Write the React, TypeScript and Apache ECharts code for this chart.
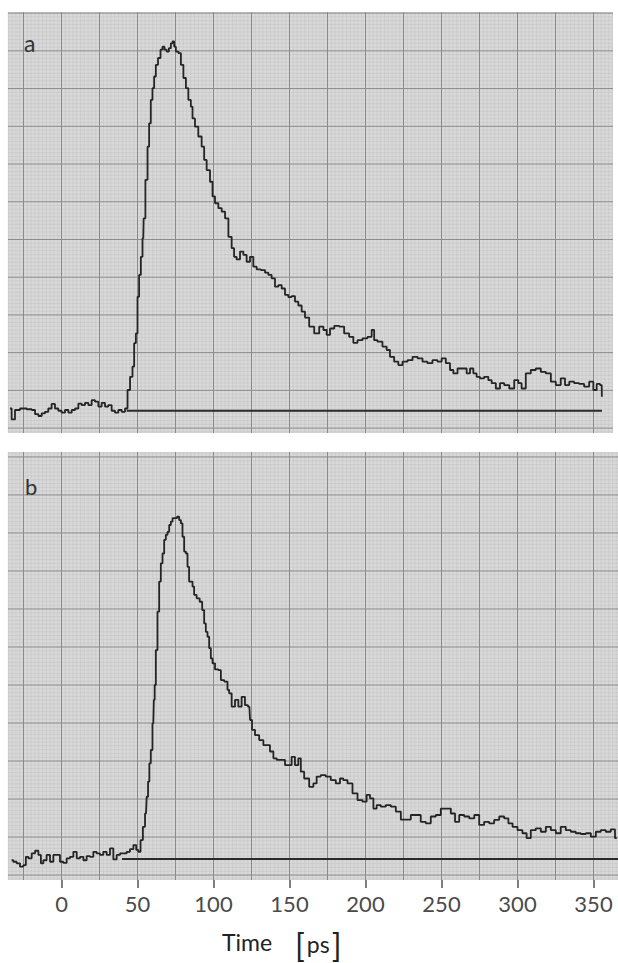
import React, { useEffect, useRef } from 'react';
import * as echarts from 'echarts';

// ---------- data (time in ps, signal in graph-paper divisions) ----------
const timeA = [
  -33.9, -31.7, -29.5, -25.1, -20.7, -18.5, -16.3, -14.1, -12.0, -9.8, -7.6, -5.4, -3.2, -1.0, 1.2, 3.4, 5.6, 7.8, 10.0,
  12.2, 14.3, 16.6, 18.8, 20.9, 23.2, 25.3, 27.5, 29.7, 31.9, 34.1, 36.3, 38.5, 40.7, 42.9, 44.0, 46.2, 47.2, 48.4, 49.5,
  50.5, 51.6, 52.8, 53.8, 54.3, 56.1, 57.1, 58.2, 59.3, 60.4, 61.5, 62.6, 64.4, 65.9, 67.0, 68.5, 69.9, 71.4, 72.5, 73.6,
  74.7, 75.8, 78.0, 79.1, 81.3, 82.4, 84.5, 85.7, 86.7, 88.9, 91.1, 93.3, 94.4, 96.6, 98.8, 99.9, 102.1, 104.3, 106.5,
  108.7, 110.9, 113.0, 114.1, 116.3, 118.6, 120.7, 122.9, 125.1, 127.3, 129.5, 132.8, 135.0, 137.2, 139.3, 141.6, 143.8,
  145.9, 148.2, 150.3, 152.5, 154.7, 156.9, 159.1, 161.3, 164.6, 167.9, 171.2, 173.4, 175.5, 177.8, 181.1, 184.3, 187.6,
  190.9, 193.1, 196.4, 199.7, 203.0, 205.1, 206.3, 209.5, 212.8, 215.0, 217.2, 220.5, 222.7, 226.0, 229.3, 232.6, 235.9,
  239.1, 242.4, 245.7, 249.0, 251.2, 254.5, 256.7, 258.9, 262.2, 265.5, 267.6, 269.9, 272.0, 274.2, 276.4, 279.7, 281.9,
  284.1, 287.4, 289.6, 292.9, 296.2, 299.5, 301.6, 303.8, 307.1, 310.4, 313.7, 317.0, 320.3, 323.6, 326.8, 330.1, 332.4,
  335.7, 338.9, 342.2, 345.5, 348.8, 351.0, 353.2, 355.4, 355.6,
];
const signalA = [
  0.52, 0.23, 0.48, 0.52, 0.50, 0.48, 0.37, 0.32, 0.39, 0.43, 0.52, 0.64, 0.52, 0.46, 0.41, 0.48, 0.41, 0.48, 0.52,
  0.65, 0.61, 0.67, 0.61, 0.74, 0.70, 0.57, 0.67, 0.57, 0.61, 0.46, 0.41, 0.48, 0.43, 0.52, 1.01, 1.36, 1.63, 2.25, 2.51,
  3.48, 4.06, 4.54, 5.03, 5.56, 6.58, 7.46, 8.08, 8.70, 9.01, 9.32, 9.63, 9.81, 10.03, 10.11, 10.03, 9.98, 10.07, 10.20, 10.25,
  10.11, 9.98, 9.94, 9.63, 9.28, 9.01, 8.70, 8.52, 8.21, 7.99, 7.73, 7.46, 7.11, 6.84, 6.53, 6.14, 5.96, 5.83, 5.74,
  5.56, 5.07, 4.77, 4.54, 4.47, 4.68, 4.59, 4.41, 4.54, 4.28, 4.21, 4.19, 4.12, 4.06, 3.97, 3.75, 3.79,
  3.70, 3.53, 3.47, 3.50, 3.35, 3.25, 3.09, 2.93, 2.69, 2.51, 2.69, 2.60, 2.47, 2.64, 2.71, 2.69, 2.51,
  2.42, 2.26, 2.33, 2.38, 2.42, 2.60, 2.33, 2.29, 2.16, 2.07, 1.89, 1.76, 1.67, 1.76, 1.80, 1.89, 1.85,
  1.76, 1.72, 1.80, 1.76, 1.85, 1.72, 1.54, 1.45, 1.58, 1.58, 1.45, 1.58, 1.45, 1.36, 1.32, 1.36, 1.27,
  1.19, 1.05, 1.19, 1.14, 1.05, 1.27, 1.19, 1.05, 1.45, 1.54, 1.58, 1.49, 1.45, 1.23, 1.14, 1.32, 1.14,
  1.23, 1.19, 1.17, 1.10, 1.23, 1.01, 1.17, 1.14, 0.83,
];

const timeB = [
  -32.8, -30.6, -28.4, -26.2, -24.0, -22.9, -20.7, -18.5, -16.3, -14.1, -13.0, -10.9, -8.7, -6.4, -4.3, -2.1, 0.1, 2.3,
  4.5, 6.7, 8.9, 11.1, 13.3, 15.5, 17.6, 19.9, 22.0, 24.2, 26.4, 28.6, 30.8, 33.0, 35.2, 37.4, 39.6, 41.8, 43.9, 46.2,
  48.4, 49.9, 51.2, 52.8, 54.3, 55.6, 56.5, 57.4, 58.2, 59.3, 60.4, 61.1, 61.5, 62.6, 63.7, 64.8, 65.9, 67.0, 68.1, 69.2,
  70.3, 71.4, 72.5, 73.6, 75.3, 76.8, 78.0, 79.1, 80.1, 81.3, 82.4, 83.4, 84.5, 85.7, 86.7, 87.8, 90.0, 91.8, 93.3, 94.4,
  95.5, 96.6, 97.7, 98.8, 99.9, 102.1, 104.3, 105.4, 108.7, 109.7, 110.9, 113.0, 115.3, 117.4, 119.6, 121.8, 123.6, 124.5,
  126.2, 128.4, 131.7, 133.9, 136.0, 138.3, 140.5, 142.6, 145.9, 148.2, 150.3, 152.5, 154.7, 156.9, 158.0, 161.3, 164.6,
  166.8, 168.9, 172.2, 175.5, 178.8, 182.1, 184.3, 186.5, 189.8, 193.1, 196.4, 199.7, 201.8, 204.1, 206.3, 208.4, 211.7,
  215.0, 218.3, 221.6, 224.9, 228.2, 231.4, 234.7, 238.0, 241.3, 244.6, 247.9, 251.2, 254.5, 257.8, 260.0, 263.3, 266.6,
  269.9, 273.2, 276.4, 279.7, 283.0, 286.3, 289.6, 292.9, 295.1, 298.4, 301.6, 304.9, 307.1, 310.4, 313.7, 317.0, 320.3,
  323.6, 326.8, 330.1, 333.4, 336.7, 340.0, 343.3, 346.6, 349.9, 353.2, 356.4, 359.7, 363.0, 365.3,
];
const signalB = [
  0.39, 0.35, 0.31, 0.22, 0.26, 0.48, 0.44, 0.57, 0.64, 0.53, 0.31, 0.39, 0.53, 0.35, 0.53, 0.53, 0.35, 0.32,
  0.44, 0.48, 0.61, 0.44, 0.48, 0.39, 0.50, 0.48, 0.61, 0.57, 0.53, 0.61, 0.53, 0.70, 0.41, 0.53, 0.57, 0.57, 0.61, 0.68,
  0.79, 0.66, 0.61, 0.92, 1.27, 1.62, 2.06, 2.46, 2.94, 3.29, 3.99, 4.61, 5.00, 5.92, 6.93, 7.72, 8.20, 8.46, 8.82, 8.95,
  9.03, 9.21, 9.30, 9.39, 9.39, 9.43, 9.34, 9.25, 8.90, 8.51, 8.46, 8.11, 7.72, 7.72, 7.59, 7.37, 7.28, 7.19, 6.97, 6.62,
  6.40, 6.27, 5.97, 5.70, 5.57, 5.41, 5.39, 5.13, 5.09, 4.87, 4.78, 4.43, 4.61, 4.43, 4.69, 4.47, 4.43, 4.08,
  3.82, 3.68, 3.55, 3.42, 3.42, 3.25, 3.07, 3.03, 3.03, 2.89, 2.89, 3.11, 2.89, 3.07, 2.72, 2.54, 2.32,
  2.41, 2.59, 2.63, 2.59, 2.50, 2.41, 2.54, 2.50, 2.41, 2.15, 1.97, 1.93, 2.11, 2.02, 1.75, 1.84, 1.80,
  1.84, 1.80, 1.67, 1.46, 1.46, 1.58, 1.58, 1.40, 1.36, 1.54, 1.58, 1.75, 1.75, 1.62, 1.40, 1.58, 1.54,
  1.49, 1.58, 1.32, 1.40, 1.36, 1.45, 1.54, 1.49, 1.36, 1.27, 1.18, 1.10, 0.97, 1.18, 1.23, 1.14, 1.27,
  1.18, 1.10, 1.27, 1.18, 1.14, 1.10, 1.08, 1.10, 1.01, 1.14, 1.18, 1.14, 1.20, 0.97,
];

// zero (background) lines: [start ps, end ps, level]
const baselineA = [42.9, 355.6, 0.46];
const baselineB = [39.8, 367, 0.42];

const tickValues = [0, 50, 100, 150, 200, 250, 300, 350];
const panelLabels = ['a', 'b'];
const axisTitle = 'Time';
const axisUnit = 'ps';

// ---------- layout ----------
const W = 618;
const H = 963;
const ZERO_PX = 61.5;
const PX_PER_PS = 1.52;
const PANEL_A = { left: 8, top: 12, width: 605, height: 421, yMin: -0.13, yMax: 11.03 };
const PANEL_B = { left: 8, top: 452, width: 610, height: 428, yMin: -0.13, yMax: 11.13 };

const xRange = (p: any) => [
  (p.left - ZERO_PX) / PX_PER_PS,
  (p.left + p.width - ZERO_PX) / PX_PER_PS,
];

function paperLines(p: any) {
  const [x0, x1] = xRange(p);
  const minor: number[][] = [];
  const major: number[][] = [];
  // vertical: every 2.5 ps, major every 25 ps
  for (let k = Math.ceil(x0 / 2.5); k * 2.5 <= x1; k++) {
    const v = k * 2.5;
    (k % 10 === 0 ? major : minor).push([v, 0, 0]);
  }
  // horizontal: every 0.1 division, major every 1
  for (let k = Math.ceil(p.yMin * 10); k / 10 <= p.yMax; k++) {
    const v = k / 10;
    (k % 10 === 0 ? major : minor).push([0, v, 1]);
  }
  return { minor, major };
}

function paperSeries(p: any, idx: number, lines: number[][], color: string, width: number, z: number) {
  const [x0, x1] = xRange(p);
  return {
    type: 'custom',
    xAxisIndex: idx,
    yAxisIndex: idx,
    silent: true,
    z,
    data: lines,
    renderItem: (_params: any, api: any) => {
      const kind = api.value(2);
      let a, b;
      if (kind === 0) {
        const x = api.value(0);
        a = api.coord([x, p.yMin]);
        b = api.coord([x, p.yMax]);
      } else {
        const y = api.value(1);
        a = api.coord([x0, y]);
        b = api.coord([x1, y]);
      }
      return {
        type: 'line',
        shape: { x1: a[0], y1: a[1], x2: b[0], y2: b[1] },
        style: { stroke: color, lineWidth: width },
      };
    },
  };
}

export default function App() {
  const ref = useRef<HTMLDivElement>(null);
  useEffect(() => {
    if (!ref.current) return;
    const chart = echarts.init(ref.current, undefined, { renderer: 'svg' });
    const paperA = paperLines(PANEL_A);
    const paperB = paperLines(PANEL_B);
    const [xa0, xa1] = xRange(PANEL_A);
    const [xb0, xb1] = xRange(PANEL_B);
    const font = 'Lato, "Open Sans", sans-serif';
    const traceStyle = { color: '#242424', width: 1.8 };

    const hiddenAxis = {
      axisLine: { show: false },
      axisTick: { show: false },
      axisLabel: { show: false },
      splitLine: { show: false },
    };

    chart.setOption({
      animation: false,
      backgroundColor: '#ffffff',
      textStyle: { fontFamily: font },
      grid: [
        { ...PANEL_A, show: true, backgroundColor: '#d9d9d9', borderWidth: 0 },
        { ...PANEL_B, show: true, backgroundColor: '#d9d9d9', borderWidth: 0 },
        { left: ZERO_PX, right: W - (ZERO_PX + 350 * PX_PER_PS), top: 879, height: 1, show: false },
      ].map((g: any) => {
        const { yMin, yMax, ...rest } = g;
        return rest;
      }),
      xAxis: [
        { gridIndex: 0, type: 'value', min: xa0, max: xa1, ...hiddenAxis },
        { gridIndex: 1, type: 'value', min: xb0, max: xb1, ...hiddenAxis },
        {
          gridIndex: 2,
          type: 'value',
          min: 0,
          max: 350,
          interval: 50,
          axisLine: { show: false },
          axisTick: { show: true, length: 8, lineStyle: { color: '#555', width: 1.5 } },
          axisLabel: {
            show: true,
            margin: 12,
            fontSize: 22,
            color: '#4a4a4a',
            fontFamily: font,
            formatter: (v: number) => (tickValues.includes(v) ? String(v) : ''),
          },
          splitLine: { show: false },
        },
      ],
      yAxis: [
        { gridIndex: 0, type: 'value', min: PANEL_A.yMin, max: PANEL_A.yMax, ...hiddenAxis },
        { gridIndex: 1, type: 'value', min: PANEL_B.yMin, max: PANEL_B.yMax, ...hiddenAxis },
        { gridIndex: 2, type: 'value', min: 0, max: 1, ...hiddenAxis },
      ],
      series: [
        paperSeries(PANEL_A, 0, paperA.minor, '#c5c5c5', 0.6, 1),
        paperSeries(PANEL_A, 0, paperA.major, '#8a8a8a', 1, 2),
        paperSeries(PANEL_B, 1, paperB.minor, '#c5c5c5', 0.6, 1),
        paperSeries(PANEL_B, 1, paperB.major, '#8a8a8a', 1, 2),
        {
          type: 'line',
          xAxisIndex: 0,
          yAxisIndex: 0,
          z: 5,
          showSymbol: false,
          lineStyle: { color: '#2a2a2a', width: 2 },
          data: [
            [baselineA[0], baselineA[2]],
            [baselineA[1], baselineA[2]],
          ],
        },
        {
          type: 'line',
          xAxisIndex: 1,
          yAxisIndex: 1,
          z: 5,
          showSymbol: false,
          lineStyle: { color: '#2a2a2a', width: 2 },
          data: [
            [baselineB[0], baselineB[2]],
            [baselineB[1], baselineB[2]],
          ],
        },
        {
          type: 'line',
          xAxisIndex: 0,
          yAxisIndex: 0,
          z: 6,
          step: 'middle',
          showSymbol: false,
          lineStyle: traceStyle,
          data: timeA.map((t, i) => [t, signalA[i]]),
        },
        {
          type: 'line',
          xAxisIndex: 1,
          yAxisIndex: 1,
          z: 6,
          step: 'middle',
          showSymbol: false,
          lineStyle: traceStyle,
          data: timeB.map((t, i) => [t, signalB[i]]),
        },
      ],
      graphic: [
        {
          type: 'text',
          x: 24,
          y: 43,
          z: 10,
          style: { text: panelLabels[0], fontSize: 23, fill: '#333', fontFamily: font, textVerticalAlign: 'middle' },
        },
        {
          type: 'text',
          x: 25,
          y: 486,
          z: 10,
          style: { text: panelLabels[1], fontSize: 22, fill: '#333', fontFamily: font, textVerticalAlign: 'middle' },
        },
        {
          type: 'text',
          x: 222,
          y: 942,
          z: 10,
          style: { text: axisTitle, fontSize: 23, fill: '#222', fontFamily: font, textVerticalAlign: 'middle' },
        },
        {
          type: 'text',
          x: 295,
          y: 944,
          z: 10,
          style: {
            text: '{b|[}{t|' + axisUnit + '}{b|]}',
            fontFamily: font,
            textVerticalAlign: 'middle',
            rich: {
              b: { fontSize: 32, fill: '#222', fontFamily: font },
              t: { fontSize: 23, fill: '#222', fontFamily: font, padding: [0, 2, 0, 2] },
            },
          },
        },
      ],
    });
    return () => chart.dispose();
  }, []);
  return <div ref={ref} style={{ position: 'absolute', left: 0, top: 0, width: W, height: H }} />;
}
